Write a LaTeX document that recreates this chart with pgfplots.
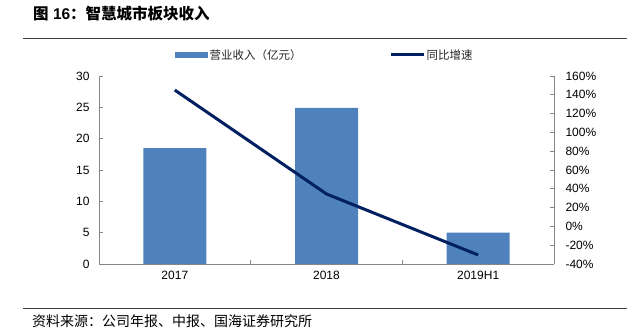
\documentclass[border=0pt]{standalone}
\usepackage{pgfplots}
\pgfplotsset{compat=1.18}
\usepackage{fontspec}
\setmainfont{Liberation Sans}
\newfontfamily\cjk{Noto Sans CJK SC}
\definecolor{barblue}{HTML}{4F81BD}
\definecolor{navy}{HTML}{002060}
\definecolor{axgray}{HTML}{868686}
\begin{document}
\begin{tikzpicture}
\path[use as bounding box] (0bp,0bp) rectangle (627bp,334bp);
\node[anchor=west, inner sep=0pt] at (33bp,320bp) {\fontsize{15.5bp}{18bp}\selectfont\bfseries{\cjk 图} 16{\cjk ：智慧城市板块收入}};
\draw[line width=1bp, color=black!75] (23bp,295bp) -- (627bp,295bp);
\draw[line width=1bp, color=black!75] (23bp,25bp) -- (627bp,25bp);
\node[anchor=west, inner sep=0pt] at (32bp,13bp) {\fontsize{14bp}{16bp}\selectfont\cjk 资料来源：公司年报、中报、国海证券研究所};

\begin{axis}[at={(99bp,70bp)}, anchor=south west, scale only axis,
  width=455bp, height=188bp,
  xmin=-0.5, xmax=2.5, ymin=0, ymax=30,
  ytick={0,5,...,30},
  axis y line*=left, axis x line*=bottom,
  axis line style={draw=axgray, line width=0.8bp, -},
  tick style={draw=axgray, line width=0.8bp},
  tick align=inside, major tick length=4bp,
  xtick={0.5,1.5}, xticklabels={},
  extra x ticks={0,1,2}, extra x tick labels={2017,2018,2019H1},
  extra x tick style={major tick length=0pt},
  ticklabel style={font=\fontsize{12bp}{14bp}\selectfont, text=black},
  /pgf/number format/assume math mode=true,
  yticklabel style={xshift=-6bp},
  xticklabel style={yshift=-4bp},
  legend style={at={(0.167,1.112)}, anchor=west, draw=none, fill=none, inner sep=0pt,
    font=\fontsize{11.5bp}{13bp}\selectfont\cjk, text=black!85,
    nodes={inner sep=1.5bp},
    /tikz/every even column/.append style={column sep=86bp}},
  legend columns=2,
]
\addplot[ybar, bar width=63bp, fill=barblue, draw=none,
  legend image code/.code={\fill[barblue] (0bp,-3bp) rectangle (33bp,3bp);}]
  coordinates {(0,18.5) (1,24.9) (2,5.0)};
\addlegendentry{营业收入（亿元）}
\addlegendimage{navy, line width=3bp, legend image code/.code={\draw[navy, line width=3bp] (0bp,0bp) -- (33bp,0bp);}}
\addlegendentry{同比增速}
\end{axis}

\begin{axis}[at={(99bp,70bp)}, anchor=south west, scale only axis,
  width=455bp, height=188bp,
  xmin=-0.5, xmax=2.5, ymin=-40, ymax=160,
  ytick={-40,-20,...,160},
  axis y line*=right, axis x line=none,
  axis line style={draw=axgray, line width=0.8bp, -},
  tick style={draw=axgray, line width=0.8bp},
  tick align=inside, major tick length=4bp,
  ticklabel style={font=\fontsize{12bp}{14bp}\selectfont, text=black},
  /pgf/number format/assume math mode=true,
  yticklabel={\pgfmathprintnumber{\tick}\%},
  yticklabel style={xshift=8bp},
]
\addplot[navy, line width=3bp] coordinates {(0,145) (1,34.5) (2,-30.4)};
\end{axis}
\end{tikzpicture}
\end{document}
